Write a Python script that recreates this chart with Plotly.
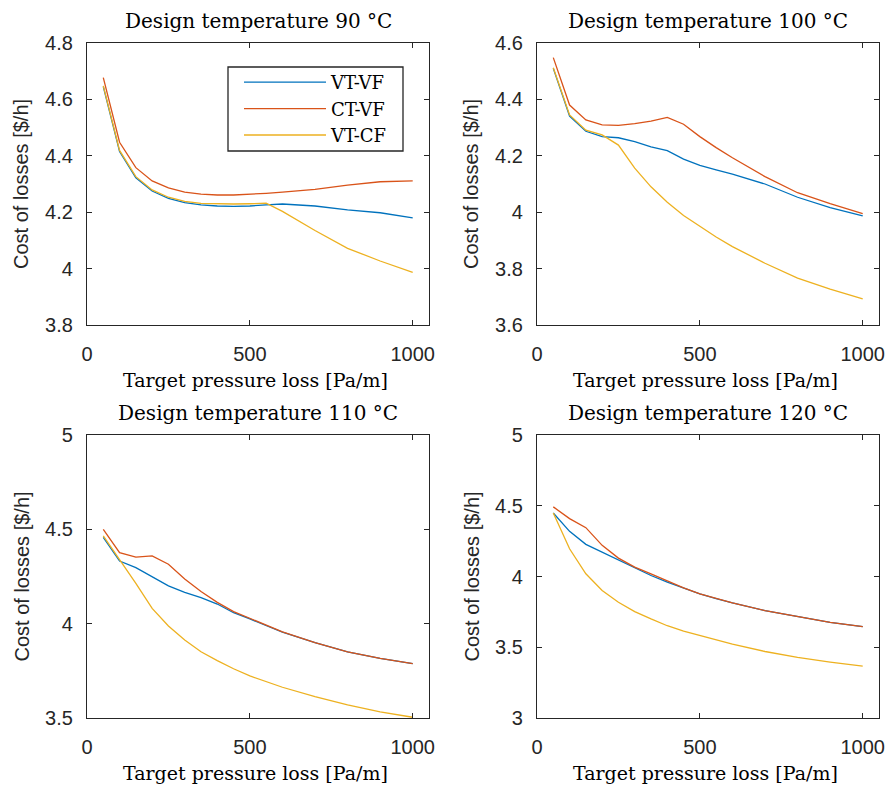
import plotly.graph_objects as go

x_vals = [50, 100, 150, 200, 250, 300, 350, 400, 450, 500, 550, 600, 700, 800, 900, 1000]

series_names = ["VT-VF", "CT-VF", "VT-CF"]
series_colors = ["#0072BD", "#D95319", "#EDB120"]

temps = ["90", "100", "110", "120"]

vt_vf_90 = [4.645, 4.415, 4.322, 4.275, 4.249, 4.234, 4.226, 4.222, 4.221, 4.222, 4.226, 4.229, 4.222, 4.208, 4.198, 4.180]
ct_vf_90 = [4.677, 4.448, 4.358, 4.311, 4.286, 4.271, 4.264, 4.261, 4.261, 4.263, 4.267, 4.271, 4.281, 4.296, 4.308, 4.311]
vt_cf_90 = [4.648, 4.419, 4.326, 4.279, 4.253, 4.238, 4.231, 4.229, 4.229, 4.230, 4.232, 4.203, 4.135, 4.072, 4.027, 3.987]

vt_vf_100 = [4.510, 4.341, 4.287, 4.268, 4.264, 4.250, 4.232, 4.218, 4.188, 4.166, 4.150, 4.135, 4.100, 4.053, 4.016, 3.987]
ct_vf_100 = [4.548, 4.380, 4.327, 4.310, 4.308, 4.314, 4.323, 4.336, 4.312, 4.268, 4.229, 4.193, 4.126, 4.069, 4.030, 3.995]
vt_cf_100 = [4.512, 4.345, 4.291, 4.274, 4.238, 4.156, 4.090, 4.035, 3.988, 3.949, 3.912, 3.878, 3.819, 3.766, 3.727, 3.693]

vt_vf_110 = [4.458, 4.332, 4.297, 4.249, 4.200, 4.166, 4.138, 4.104, 4.058, 4.025, 3.988, 3.955, 3.899, 3.851, 3.816, 3.788]
ct_vf_110 = [4.500, 4.376, 4.353, 4.359, 4.315, 4.237, 4.170, 4.113, 4.064, 4.028, 3.991, 3.957, 3.899, 3.851, 3.816, 3.788]
vt_cf_110 = [4.465, 4.341, 4.214, 4.081, 3.988, 3.913, 3.851, 3.804, 3.761, 3.723, 3.692, 3.663, 3.613, 3.569, 3.533, 3.504]

vt_vf_120 = [4.449, 4.319, 4.227, 4.172, 4.113, 4.059, 4.007, 3.960, 3.917, 3.877, 3.843, 3.813, 3.759, 3.716, 3.676, 3.645]
ct_vf_120 = [4.492, 4.409, 4.345, 4.220, 4.130, 4.066, 4.019, 3.967, 3.920, 3.877, 3.843, 3.813, 3.759, 3.716, 3.676, 3.645]
vt_cf_120 = [4.449, 4.196, 4.019, 3.901, 3.818, 3.752, 3.700, 3.652, 3.614, 3.582, 3.550, 3.522, 3.470, 3.428, 3.395, 3.367]

panel_data = [
    [vt_vf_90, ct_vf_90, vt_cf_90],
    [vt_vf_100, ct_vf_100, vt_cf_100],
    [vt_vf_110, ct_vf_110, vt_cf_110],
    [vt_vf_120, ct_vf_120, vt_cf_120],
]

x_ticks = [0, 500, 1000]
x_tick_text = ["0", "500", "1000"]
y_ticks = [
    [3.8, 4.0, 4.2, 4.4, 4.6, 4.8],
    [3.6, 3.8, 4.0, 4.2, 4.4, 4.6],
    [3.5, 4.0, 4.5, 5.0],
    [3.0, 3.5, 4.0, 4.5, 5.0],
]
y_tick_text = [
    ["3.8", "4", "4.2", "4.4", "4.6", "4.8"],
    ["3.6", "3.8", "4", "4.2", "4.4", "4.6"],
    ["3.5", "4", "4.5", "5"],
    ["3", "3.5", "4", "4.5", "5"],
]
y_ranges = [[3.8, 4.8], [3.6, 4.6], [3.5, 5.0], [3.0, 5.0]]
x_range = [0, 1050]

W, H = 891, 792
col_px = [(87, 429), (537, 879)]
row_px = [(43, 325), (435, 718)]

SERIF = "DejaVu Serif, serif"
SANS = "Liberation Sans, Arial, sans-serif"

fig = go.Figure()
annotations = []
layout_axes = {}

for i in range(4):
    r, c = divmod(i, 2)
    xa = "x" if i == 0 else f"x{i+1}"
    ya = "y" if i == 0 else f"y{i+1}"
    for k in range(3):
        fig.add_trace(go.Scatter(
            x=x_vals, y=panel_data[i][k], mode="lines", name=series_names[k],
            line=dict(color=series_colors[k], width=1.3),
            xaxis=xa, yaxis=ya, showlegend=(i == 0),
        ))
    x0, x1 = col_px[c]
    y0, y1 = row_px[r]
    xdom = [x0 / W, x1 / W]
    ydom = [1 - y1 / H, 1 - y0 / H]
    axis_common = dict(
        showline=True, linecolor="#262626", linewidth=1.3, mirror="ticks",
        ticks="inside", ticklen=5, tickwidth=1.3, tickcolor="#262626",
        showgrid=False, zeroline=False, automargin=False,
        tickfont=dict(family=SANS, size=20, color="#262626"),
    )
    layout_axes["xaxis" if i == 0 else f"xaxis{i+1}"] = dict(
        domain=xdom, range=x_range, anchor=ya,
        tickvals=x_ticks, ticktext=x_tick_text, ticklabelstandoff=11, **axis_common)
    layout_axes["yaxis" if i == 0 else f"yaxis{i+1}"] = dict(
        domain=ydom, range=y_ranges[i], anchor=xa,
        tickvals=y_ticks[i], ticktext=y_tick_text[i], ticklabelstandoff=9, **axis_common)
    cx = (x0 + x1) / 2 / W
    annotations.append(dict(
        text=f"Design temperature {temps[i]} °C", x=cx, y=1 - (y0 - 22) / H,
        xref="paper", yref="paper", showarrow=False, xanchor="center", yanchor="middle",
        font=dict(family=SERIF, size=20, color="black")))
    annotations.append(dict(
        text="Target pressure loss [Pa/m]", x=cx - 3 / W, y=1 - (y1 + 55) / H,
        xref="paper", yref="paper", showarrow=False, xanchor="center", yanchor="middle",
        font=dict(family=SERIF, size=19, color="black")))
    annotations.append(dict(
        text="Cost of losses [$/h]", x=(x0 - 66) / W, y=1 - ((y0 + y1) / 2) / H,
        xref="paper", yref="paper", showarrow=False, xanchor="center", yanchor="middle",
        textangle=-90, font=dict(family=SANS, size=20, color="#262626")))

legend_box = dict(
    type="rect", xref="paper", yref="paper",
    x0=228 / W, x1=403 / W, y0=1 - 151 / H, y1=1 - 67 / H,
    line=dict(color="#262626", width=1.3), fillcolor="white", layer="above",
)

fig.update_layout(
    width=W, height=H,
    margin=dict(l=0, r=0, t=0, b=0, autoexpand=False),
    paper_bgcolor="white", plot_bgcolor="white",
    annotations=annotations,
    shapes=[legend_box],
    legend=dict(
        x=239 / W, y=1 - 64 / H, xanchor="left", yanchor="top",
        bgcolor="rgba(0,0,0,0)", borderwidth=0,
        font=dict(family=SERIF, size=18, color="black"),
        itemwidth=82, tracegroupgap=0,
    ),
    **layout_axes,
)

fig.write_html(
    "out.html",
    config={"displayModeBar": False},
    post_script="document.body.style.margin='0';document.body.style.overflow='hidden';",
)
